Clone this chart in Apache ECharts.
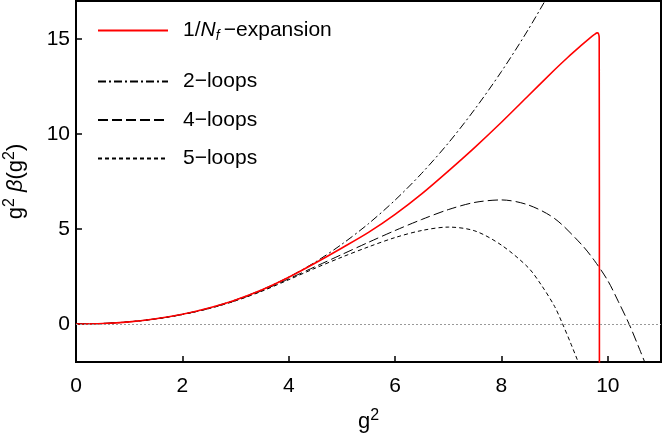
<!DOCTYPE html>
<html>
<head>
<meta charset="utf-8">
<title>g2 beta(g2)</title>
<script src="https://cdn.jsdelivr.net/npm/echarts@6/dist/echarts.min.js"></script>
<style>
html, body { margin: 0; padding: 0; background: #fff; }
#chart { width: 664px; height: 441px; }
</style>
</head>
<body>
<div id="chart"></div>
<script>
// values
const xTicks = [0, 2, 4, 6, 8, 10];
const yTicks = [0, 5, 10, 15];

const twoLoopX = [0, 0.5, 1, 1.5, 2, 2.5, 3, 3.5, 4, 4.5, 5, 5.5, 6, 6.5, 7, 7.5, 8, 8.5, 9];
const twoLoopY = [0, 0.027, 0.115, 0.273, 0.512, 0.841, 1.27, 1.81, 2.47, 3.26, 4.20, 5.28, 6.52, 7.93, 9.52, 11.31, 13.29, 15.48, 17.89];

const nfX = [0, 0.5, 1, 1.5, 2, 2.5, 3, 3.5, 4, 4.5, 5, 5.5, 6, 6.5, 7, 7.5, 8, 8.5, 9, 9.25, 9.5, 9.65, 9.75, 9.8, 9.825, 9.838, 9.842];
const nfY = [0, 0.027, 0.114, 0.272, 0.51, 0.84, 1.26, 1.80, 2.46, 3.21, 4.00, 4.82, 5.77, 6.85, 8.05, 9.30, 10.62, 12.0, 13.38, 14.04, 14.66, 15.02, 15.24, 15.32, 15.28, 15.05, -3];

const fourLoopX = [0, 0.5, 1, 1.5, 2, 2.5, 3, 3.5, 4, 4.5, 5, 5.5, 6, 6.5, 7, 7.5, 8, 8.5, 9, 9.5, 9.75, 10, 10.2, 10.4, 10.6, 10.8];
const fourLoopY = [0, 0.027, 0.113, 0.27, 0.50, 0.82, 1.23, 1.76, 2.38, 3.02, 3.66, 4.30, 4.92, 5.50, 6.02, 6.40, 6.53, 6.27, 5.55, 4.20, 3.33, 2.28, 1.17, 0, -1.35, -2.75];

const fiveLoopX = [0, 0.5, 1, 1.5, 2, 2.5, 3, 3.5, 4, 4.5, 5, 5.5, 6, 6.5, 7, 7.5, 8, 8.5, 8.75, 9, 9.15, 9.3, 9.5];
const fiveLoopY = [0, 0.027, 0.113, 0.27, 0.50, 0.81, 1.22, 1.73, 2.33, 2.94, 3.52, 4.06, 4.55, 4.92, 5.10, 4.90, 4.15, 2.98, 2.05, 0.92, 0, -1.0, -2.4];

const font = "'Liberation Sans', Arial, sans-serif";

function pairs(xs, ys) {
    return xs.map((x, i) => [x, ys[i]]);
}

const chart = echarts.init(document.getElementById('chart'));

const option = {
    animation: false,
    backgroundColor: '#fff',
    textStyle: { fontFamily: font, color: '#000' },
    grid: {
        left: 76, right: 3, top: 1, bottom: 79,
        containLabel: false, outerBoundsMode: 'none',
        show: true, borderColor: '#000', borderWidth: 2
    },
    legend: [
        {
            data: ['1/Nf-expansion'],
            left: 92, top: 15,
            itemWidth: 70, itemHeight: 2,
            itemStyle: { opacity: 0 },
            formatter: () => '{t|1/}{i|N}{f|f}{t|\u2009\u2212expansion}',
            textStyle: {
                padding: [0, 0, 0, 10],
                rich: {
                    t: { fontSize: 21, lineHeight: 26, fontFamily: font, color: '#000' },
                    i: { fontSize: 21, lineHeight: 26, fontStyle: 'italic', fontFamily: font, color: '#000' },
                    f: { fontSize: 14, lineHeight: 14, fontStyle: 'italic', verticalAlign: 'bottom', fontFamily: font, color: '#000' }
                }
            }
        },
        {
            data: ['2\u2212loops', '4\u2212loops', '5\u2212loops'],
            orient: 'vertical',
            left: 92, top: 66,
            itemWidth: 70, itemHeight: 2, itemGap: 17.5,
            itemStyle: { opacity: 0 },
            textStyle: { fontSize: 21, lineHeight: 21, padding: [0, 0, 0, 10], fontFamily: font, color: '#000' }
        }
    ],
    xAxis: {
        type: 'value', min: 0, max: 11,
        name: '{t|g}{s|2}',
        nameLocation: 'middle', nameGap: 46,
        nameTextStyle: {
            rich: {
                t: { fontSize: 22, lineHeight: 28, fontFamily: font, color: '#000' },
                s: { fontSize: 16, lineHeight: 16, verticalAlign: 'top', fontFamily: font, color: '#000' }
            }
        },
        axisLine: { show: false, onZero: false },
        axisTick: { inside: true, length: 6, lineStyle: { color: '#000', width: 1.5 }, customValues: xTicks },
        axisLabel: { fontSize: 21, color: '#000', margin: 14, customValues: xTicks },
        splitLine: { show: false }
    },
    yAxis: {
        type: 'value', min: -2, max: 17,
        name: '{t|g}{s|2}{t| }{b|\u03B2}{t|(g}{s|2}{t|)}',
        nameLocation: 'middle', nameGap: 46,
        nameTextStyle: {
            rich: {
                t: { fontSize: 22, lineHeight: 28, fontFamily: font, color: '#000' },
                b: { fontSize: 22, lineHeight: 28, fontStyle: 'italic', fontFamily: font, color: '#000' },
                s: { fontSize: 16, lineHeight: 16, verticalAlign: 'top', fontFamily: font, color: '#000' }
            }
        },
        axisLine: { show: false, onZero: false },
        axisTick: { inside: true, length: 6, lineStyle: { color: '#000', width: 1.5 }, customValues: yTicks },
        axisLabel: { fontSize: 21, color: '#000', margin: 6, customValues: yTicks },
        splitLine: { show: false }
    },
    series: [
        {
            name: '2\u2212loops', type: 'line', symbol: 'none', smooth: 0.3,
            data: pairs(twoLoopX, twoLoopY),
            lineStyle: { color: '#000', width: 1, type: [8, 3, 2, 3] },
            itemStyle: { color: '#000' },
            markLine: {
                silent: true, symbol: ['none', 'none'], label: { show: false },
                lineStyle: { color: '#999', width: 1, type: [2, 2] },
                data: [{ yAxis: 0 }]
            }
        },
        {
            name: '4\u2212loops', type: 'line', symbol: 'none', smooth: 0.3,
            data: pairs(fourLoopX, fourLoopY),
            lineStyle: { color: '#000', width: 1, type: [10, 4] },
            itemStyle: { color: '#000' }
        },
        {
            name: '5\u2212loops', type: 'line', symbol: 'none', smooth: 0.3,
            data: pairs(fiveLoopX, fiveLoopY),
            lineStyle: { color: '#000', width: 1, type: [4, 3] },
            itemStyle: { color: '#000' }
        },
        {
            name: '1/Nf-expansion', type: 'line', symbol: 'none', smooth: 0.3,
            data: pairs(nfX, nfY),
            lineStyle: { color: '#ff0000', width: 1.6 },
            itemStyle: { color: '#ff0000' }
        }
    ]
};

chart.setOption(option);
</script>
</body>
</html>
